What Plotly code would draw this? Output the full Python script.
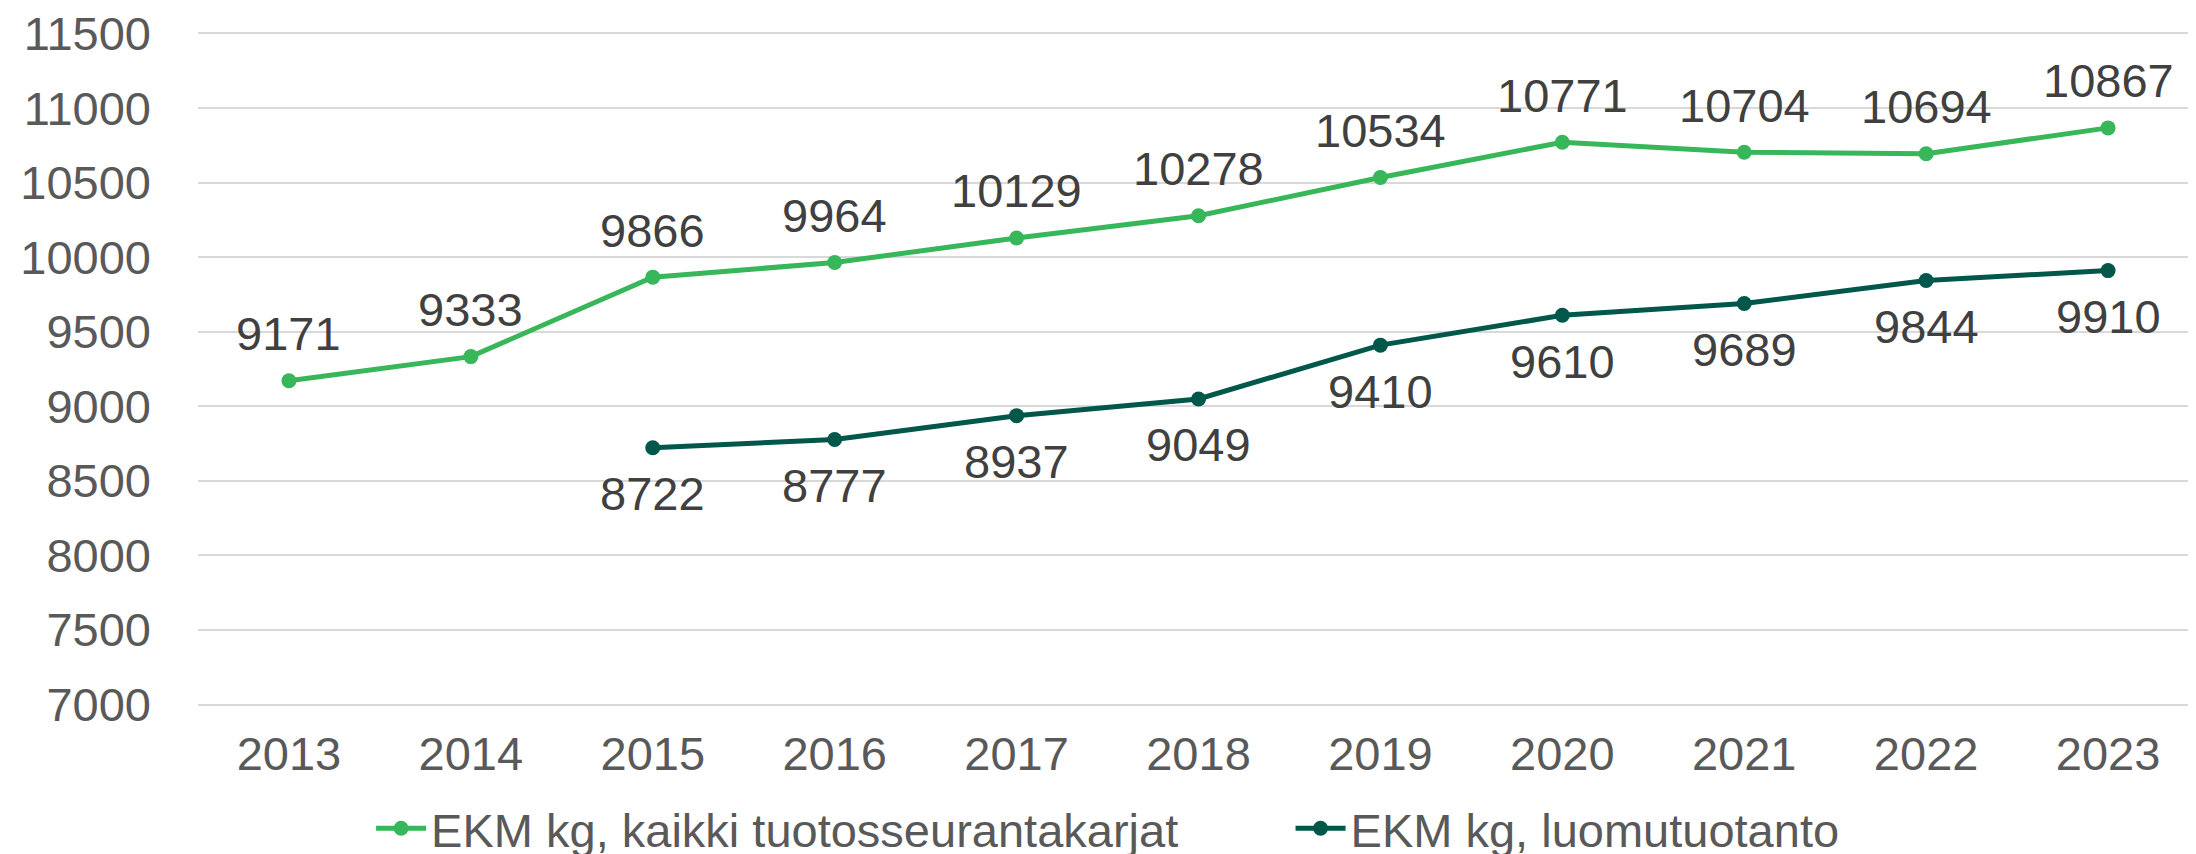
import plotly.graph_objects as go

years = ["2013", "2014", "2015", "2016", "2017", "2018", "2019", "2020", "2021", "2022", "2023"]
all_herds = [9171, 9333, 9866, 9964, 10129, 10278, 10534, 10771, 10704, 10694, 10867]
organic = [None, None, 8722, 8777, 8937, 9049, 9410, 9610, 9689, 9844, 9910]
name_all = "EKM kg, kaikki tuotosseurantakarjat"
name_org = "EKM kg, luomutuotanto"
y_ticks = list(range(7000, 11501, 500))

light = "#37B65A"
dark = "#00574A"
font = "Liberation Sans, Arial, sans-serif"
FS = 47

fig = go.Figure()
fig.add_trace(go.Scatter(
    x=years, y=all_herds, name=name_all, mode="lines+markers",
    line=dict(color=light, width=5), marker=dict(size=15, color=light), legend="legend",
))
org_idx = [i for i, v in enumerate(organic) if v is not None]
org_x = [years[i] for i in org_idx]
org_y = [organic[i] for i in org_idx]
fig.add_trace(go.Scatter(
    x=org_x, y=org_y, name=name_org, mode="lines+markers",
    line=dict(color=dark, width=5), marker=dict(size=15, color=dark), legend="legend2",
))

for i, v in enumerate(all_herds):
    fig.add_annotation(x=i, y=v, xref="x", yref="y", text=str(v), showarrow=False, yshift=47,
                       font=dict(size=FS, color="#404040", family=font))
for i in org_idx:
    fig.add_annotation(x=i, y=organic[i], xref="x", yref="y", text=str(organic[i]),
                       showarrow=False, yshift=-46,
                       font=dict(size=FS, color="#404040", family=font))

leg_common = dict(orientation="h", xanchor="left", y=-0.182, yanchor="middle",
                  font=dict(size=FS, color="#595959"), itemwidth=50, bgcolor="rgba(0,0,0,0)")
fig.update_layout(
    width=2196, height=854,
    margin=dict(l=190, r=5, t=24, b=156, autoexpand=False),
    paper_bgcolor="white", plot_bgcolor="white",
    font=dict(family=font, size=FS, color="#595959"),
    showlegend=True,
    legend=dict(x=0.0865, **leg_common),
    legend2=dict(x=0.546, **leg_common),
)
fig.update_xaxes(type="category", categoryorder="array", categoryarray=years,
                 range=[-0.5, 10.5], showgrid=False, zeroline=False, showline=False,
                 ticks="", tickfont=dict(size=FS, color="#595959"), ticklabelstandoff=16)
fig.update_yaxes(range=[6990, 11510], tickvals=y_ticks, ticktext=[str(t) for t in y_ticks],
                 showgrid=True, gridcolor="#D9D9D9", ticklabeloverflow="allow",
                 gridwidth=1.5, zeroline=False, showline=False, ticks="",
                 tickfont=dict(size=FS, color="#595959"), ticklabelstandoff=46)

fig.write_html("out.html")
